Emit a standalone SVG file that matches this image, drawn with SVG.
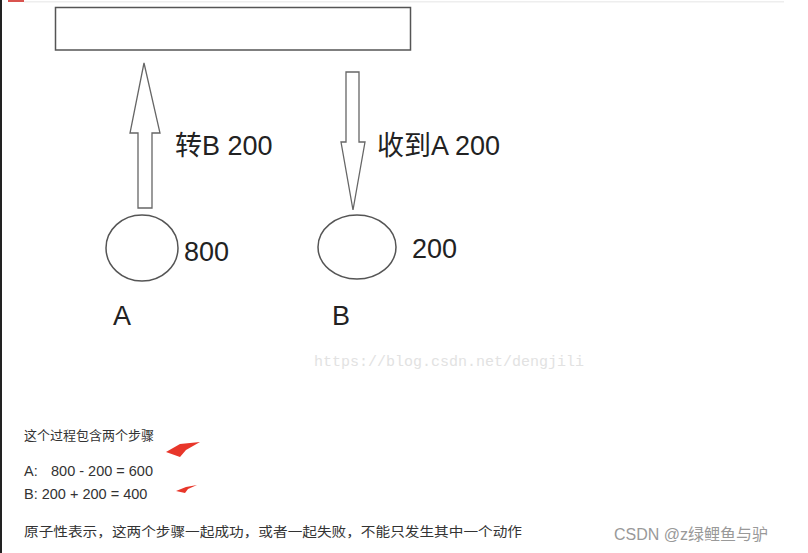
<svg xmlns="http://www.w3.org/2000/svg" width="808" height="553" viewBox="0 0 808 553">
<defs>
<style>
.shape{fill:#fff;stroke:#555;stroke-width:1.5}
.blk{fill:#fff;stroke:#666;stroke-width:1.3}
.big{font-family:"Liberation Sans","Noto Sans CJK SC",sans-serif;font-size:27px;fill:#222}
.small{font-family:"Liberation Sans","Noto Sans CJK SC",sans-serif;font-size:13px;fill:#333}
.calc{font-family:"Liberation Sans","Noto Sans CJK SC",sans-serif;font-size:14.5px;fill:#333}
.red{fill:#e8362a}
</style>
</defs>
<rect x="0" y="0" width="808" height="553" fill="#fff"/>
<rect x="0" y="0" width="2" height="553" fill="#222"/>
<rect x="8" y="0" width="16" height="2" fill="#d9534f"/>
<rect x="24" y="1" width="760" height="1.5" fill="#eee"/>

<g id="target">
<rect class="shape" x="55.5" y="7.5" width="355" height="42.5" stroke-width="2"/>
</g>

<g id="connectors">
<path id="up-arrow" class="blk" d="M144,63 L160,133 L152,133 L152,208 L138,208 L138,133 L130,133 Z"/>
<path id="down-arrow" class="blk" d="M346,72 L359,72 L359,142 L365,142 L353,210 L341,142 L346,142 Z"/>
</g>

<g id="label-transfer"><text class="big" x="175" y="155">转B 200</text></g>
<g id="label-receive"><text class="big" x="377" y="155">收到A 200</text></g>

<g id="node-A">
<ellipse class="shape" cx="142" cy="248" rx="36" ry="33"/>
<text class="big" x="184" y="261">800</text>
<text class="big" x="113" y="325">A</text>
</g>
<g id="node-B">
<ellipse class="shape" cx="357" cy="247" rx="39" ry="32"/>
<text class="big" x="412" y="258">200</text>
<text class="big" x="332" y="325">B</text>
</g>

<text x="314" y="366" font-family="Liberation Mono,monospace" font-size="15" fill="#e2e2e2">https://blog.csdn.net/dengjili</text>

<g id="notes">
<text class="small" x="24" y="440">这个过程包含两个步骤</text>
<path class="red" d="M166,452 L180,444 L200,442 L186,450 L180,457 Z"/>
<text class="calc" x="24" y="476">A:<tspan x="51">800 - 200 = 600</tspan></text>
<text class="calc" x="24" y="499">B: 200 + 200 = 400</text>
<path class="red" d="M176,491 L186,487 L197,485 L188,489 L185,493 Z"/>
<text class="small" x="24" y="536" textLength="498" lengthAdjust="spacingAndGlyphs" fill="#3a3a3a">原子性表示，这两个步骤一起成功，或者一起失败，不能只发生其中一个动作</text>
</g>

<text x="614" y="540" font-family="Liberation Sans,Noto Sans CJK SC,sans-serif" font-size="16" fill="#999">CSDN @z绿鲤鱼与驴</text>
</svg>
